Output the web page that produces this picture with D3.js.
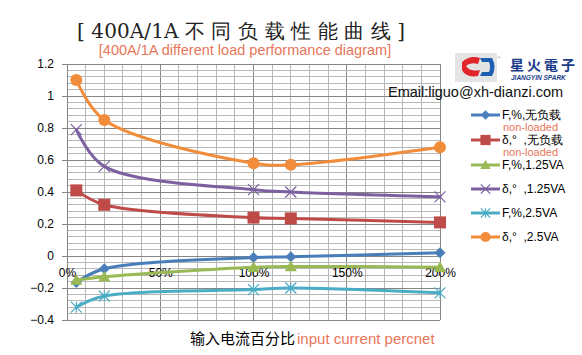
<!DOCTYPE html>
<html><head><meta charset="utf-8">
<script src="https://cdn.jsdelivr.net/npm/d3@7"></script>
<style>body{margin:0;background:#fff}svg{display:block}</style>
</head><body>
<svg id="c" width="582" height="355"></svg>
<script>
const xValues = [5, 20, 100, 120, 200];
const seriesNames = ["F,%,无负载", "δ,°  ,无负载", "F,%,1.25VA", "δ,°  ,1.25VA", "F,%,2.5VA", "δ,°  ,2.5VA"];
const fNoLoad = [-0.165, -0.08, -0.01, -0.005, 0.02];
const dNoLoad = [0.41, 0.32, 0.24, 0.235, 0.21];
const f125 = [-0.15, -0.13, -0.07, -0.065, -0.07];
const d125 = [0.79, 0.56, 0.415, 0.40, 0.37];
const f25 = [-0.32, -0.25, -0.21, -0.20, -0.23];
const d25 = [1.1, 0.85, 0.58, 0.57, 0.68];
const yTicks = [-0.4, -0.2, 0, 0.2, 0.4, 0.6, 0.8, 1, 1.2];
const xTicks = [0, 50, 100, 150, 200];
const colors = ["#4A7EBB", "#BE4B48", "#98B954", "#7D60A0", "#4AACC5", "#F18C3A"];
const markers = ["diamond", "square", "triangle", "x", "star", "circle"];
const series = [fNoLoad, dNoLoad, f125, d125, f25, d25];

const svg = d3.select("#c");
const x = d3.scaleLinear().domain([0, 200]).range([67, 440]);
const y = d3.scaleLinear().domain([-0.4, 1.2]).range([320, 64]);

// grid
const g = svg.append("g");
const minorX = d3.range(0, 201, 10);
const minorY = d3.range(-0.4, 1.2001, 0.04);
g.selectAll(".mx").data(minorX).join("line")
  .attr("x1", d => x(d)).attr("x2", d => x(d)).attr("y1", 64).attr("y2", 320)
  .attr("stroke", d => d % 50 === 0 ? "#868686" : "#b8b8b8").attr("stroke-width", 1).attr("shape-rendering", "crispEdges");
g.selectAll(".my").data(minorY).join("line")
  .attr("x1", 67).attr("x2", 440).attr("y1", d => y(d)).attr("y2", d => y(d))
  .attr("stroke", "#b8b8b8").attr("stroke-width", 1).attr("shape-rendering", "crispEdges");
g.selectAll(".My").data(yTicks).join("line")
  .attr("x1", 62).attr("x2", 440).attr("y1", d => y(d)).attr("y2", d => y(d))
  .attr("stroke", "#868686").attr("stroke-width", 1).attr("shape-rendering", "crispEdges");
g.append("line").attr("x1", 67).attr("x2", 67).attr("y1", 64).attr("y2", 320)
  .attr("stroke", "#868686").attr("shape-rendering", "crispEdges");

// y axis labels
const yAxis = d3.axisLeft(y).tickValues(yTicks).tickSize(0).tickPadding(0).tickFormat(d => d3.format("~g")(+d.toFixed(2)));
const ya = svg.append("g").attr("transform", "translate(54,0)").call(yAxis);
ya.select(".domain").remove();
ya.selectAll("text").attr("font-family", "Liberation Sans, Arial, sans-serif").attr("font-size", 12).attr("fill", "#000");

// x axis labels
const xAxis = d3.axisBottom(x).tickValues(xTicks).tickSize(0).tickPadding(0).tickFormat(d => d + "%");
const xa = svg.append("g").attr("transform", "translate(0,268)").call(xAxis);
xa.select(".domain").remove();
xa.selectAll("text").attr("font-family", "Liberation Sans, Arial, sans-serif").attr("font-size", 12).attr("fill", "#000");

// lines
const line = d3.line().x((d, i) => x(xValues[i])).y(d => y(d)).curve(d3.curveCatmullRom.alpha(0.5));
function markerPath(type, s) {
  if (type === "diamond") return `M0,${-s}L${s},0L0,${s}L${-s},0Z`;
  if (type === "square") return `M${-s},${-s}H${s}V${s}H${-s}Z`;
  if (type === "triangle") return `M0,${-s}L${s},${s*0.8}L${-s},${s*0.8}Z`;
  if (type === "x") return `M${-s},${-s}L${s},${s}M${-s},${s}L${s},${-s}`;
  if (type === "star") return `M${-s},${-s}L${s},${s}M${-s},${s}L${s},${-s}M0,${-s}V${s}`;
  return null;
}
function drawMarker(sel, type, color, cx, cy, scale) {
  const sz = {diamond: 5.5, square: 6, triangle: 6, x: 5.5, star: 5.5, circle: 6}[type] * scale;
  if (type === "circle") {
    sel.append("circle").attr("cx", cx).attr("cy", cy).attr("r", sz).attr("fill", color);
  } else if (type === "x" || type === "star") {
    sel.append("path").attr("d", markerPath(type, sz)).attr("transform", `translate(${cx},${cy})`)
      .attr("stroke", color).attr("stroke-width", 1.2).attr("fill", "none");
  } else {
    sel.append("path").attr("d", markerPath(type, sz)).attr("transform", `translate(${cx},${cy})`).attr("fill", color);
  }
}
const drawOrder = [0, 1, 3, 5, 2, 4];
drawOrder.forEach(k => {
  const data = series[k];
  const sg = svg.append("g");
  sg.append("path").attr("d", line(data)).attr("fill", "none").attr("stroke", colors[k]).attr("stroke-width", 3).attr("stroke-linecap", "round");
  data.forEach((v, i) => drawMarker(sg, markers[k], colors[k], x(xValues[i]), y(v), 1));
});

// titles
svg.append("text").attr("x", 77).attr("y", 38)
  .attr("font-family", "DejaVu Serif, Liberation Serif, serif").attr("font-size", 20).attr("fill", "#222")
  .attr("textLength", 328).attr("lengthAdjust", "spacing")
  .attr("xml:space", "preserve").text("[ 400A/1A 不 同 负 载 性 能 曲 线 ]");
svg.append("text").attr("x", 245).attr("y", 55).attr("text-anchor", "middle")
  .attr("font-family", "Liberation Sans, Arial, sans-serif").attr("font-size", 14.5).attr("fill", "#E8765A")
  .text("[400A/1A different load performance diagram]");

// logo
const lg = svg.append("g");
lg.append("rect").attr("x", 455).attr("y", 53).attr("width", 42).attr("height", 29).attr("fill", "#e4e4e4");
lg.append("path").attr("d", "M462,62 Q470,55 480,58 L478,64 Q470,62 466,66 Q470,72 480,70 L478,76 Q466,78 462,70 Z").attr("fill", "#E0262B");
lg.append("path").attr("d", "M480,58 L492,58 Q497,67 492,76 L480,76 L482,72 L489,72 Q491,67 489,62 L482,62 Z").attr("fill", "#1F5FB2");
lg.append("text").attr("x", 497).attr("y", 59).attr("font-size", 5).attr("fill", "#888").text("®");
lg.append("text").attr("x", 510).attr("y", 70).attr("font-family", "Noto Sans CJK TC, sans-serif").attr("font-weight", "bold").attr("font-size", 14).attr("fill", "#1a3b8a").attr("letter-spacing", 3).text("星火電子");
lg.append("text").attr("x", 511).attr("y", 80).attr("font-family", "Liberation Sans, Arial, sans-serif").attr("font-weight", "bold").attr("font-style", "italic").attr("font-size", 6.5).attr("fill", "#1a3b8a").text("JIANGYIN SPARK");

svg.append("text").attr("x", 388).attr("y", 97).attr("font-family", "Liberation Sans, Arial, sans-serif").attr("font-size", 14.5).attr("fill", "#111")
  .text("Email:liguo@xh-dianzi.com");

// legend
const legY = [115, 140, 165, 189, 213, 237];
const lgd = svg.append("g");
seriesNames.forEach((name, k) => {
  const yy = legY[k];
  lgd.append("line").attr("x1", 471).attr("x2", 500).attr("y1", yy).attr("y2", yy).attr("stroke", colors[k]).attr("stroke-width", 3);
  drawMarker(lgd, markers[k], colors[k], 485.5, yy, 0.85);
  lgd.append("text").attr("x", 502).attr("y", yy + 3.5).attr("font-family", "Liberation Sans, Arial, sans-serif").attr("font-size", 12).attr("fill", "#000")
    .attr("xml:space", "preserve").text(name);
  if (k < 2) {
    lgd.append("text").attr("x", 503).attr("y", yy + 16).attr("font-family", "Liberation Sans, Arial, sans-serif").attr("font-size", 11).attr("fill", "#E8765A").text("non-loaded");
  }
});

// x axis title
const xt = svg.append("text").attr("y", 344).attr("font-size", 15);
xt.append("tspan").attr("x", 190).attr("font-family", "Noto Sans CJK SC, sans-serif").attr("fill", "#000").text("输入电流百分比");
xt.append("tspan").attr("dx", 2).attr("font-family", "Liberation Sans, Arial, sans-serif").attr("fill", "#E8765A").text("input current percnet");
</script>
</body></html>
